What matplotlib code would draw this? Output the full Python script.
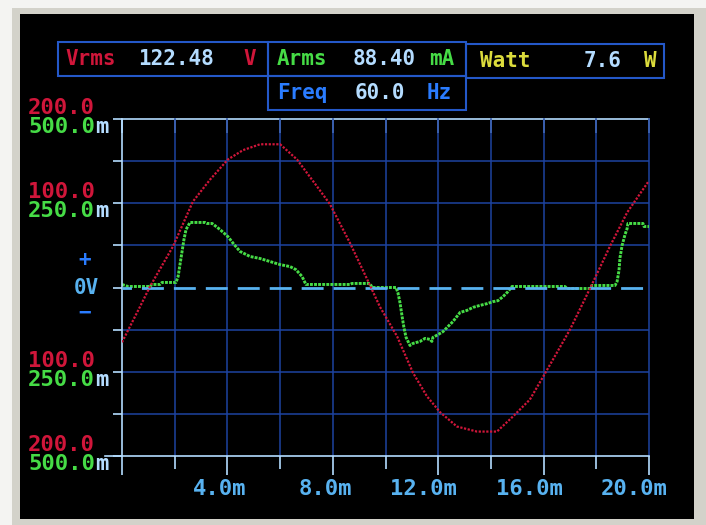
import matplotlib
matplotlib.use('Agg')
import matplotlib.pyplot as plt
import matplotlib.transforms as mtransforms
from matplotlib.patches import Rectangle
import numpy as np

W, H = 706, 525

# voltage trace, time in ms, volts
volt_t = [0.0, 0.68, 1.06, 1.94, 2.69, 3.34, 4.02, 4.59, 5.24, 6.00, 6.64, 7.40, 7.89,
          8.65, 9.30, 9.79, 10.44, 11.04, 11.57, 12.07, 12.71, 13.47, 14.23, 14.84,
          15.48, 15.98, 16.51, 17.00, 17.50, 17.87, 18.52, 19.17, 19.96]
volt_v = [-65, -23, 1, 49, 102, 128, 152, 163, 170, 170, 152, 120, 99,
          53, 10, -23, -58, -101, -129, -148, -165, -171, -171, -153,
          -133, -106, -77, -50, -18, 6, 49, 89, 125]

# current trace, time in ms, mA
amp_t = [0.0, 0.23, 1.06, 1.14, 1.44, 1.52, 2.05, 2.13, 2.20, 2.28, 2.35, 2.43, 2.58,
         3.15, 3.23, 3.42, 3.72, 4.02, 4.25, 4.48, 4.86, 5.24, 5.62, 6.00, 6.38, 6.60,
         6.83, 6.98, 8.65, 8.73, 9.41, 9.49, 10.40, 10.47, 10.55, 10.63, 10.70, 10.78,
         10.93, 11.04, 11.31, 11.50, 11.69, 11.76, 11.80, 11.99, 12.18, 12.37, 12.56,
         12.71, 12.83, 13.09, 13.32, 13.59, 13.85, 14.08, 14.27, 14.46, 14.65, 14.80,
         16.81, 16.89, 17.76, 17.84, 18.71, 18.79, 18.86, 18.90, 18.98, 19.09, 19.17,
         19.20, 19.77, 19.81, 20.0]
amp_ma = [9, 3, 3, 9, 9, 15, 15, 33, 68, 107, 142, 172, 193,
          193, 190, 190, 172, 151, 128, 107, 92, 86, 77, 68, 62, 53,
          33, 9, 9, 12, 12, 0, 0, -15, -45, -86, -119, -148,
          -172, -166, -160, -151, -154, -160, -148, -140, -131, -116, -101,
          -86, -74, -68, -59, -53, -48, -42, -39, -27, -12, 3,
          3, -3, -3, 6, 6, 18, 50, 89, 125, 157, 175,
          190, 190, 181, 181]

# readouts on top
head_names = ['Vrms', 'Arms', 'Freq', 'Watt']
head_values = ['122.48', '88.40', '60.0', '7.6']
head_units = ['V', 'mA', 'Hz', 'W']

# scales
time_major = [0, 4, 8, 12, 16, 20]
time_minor = [2, 6, 10, 14, 18]
time_labels = ['', '4.0m', '8.0m', '12.0m', '16.0m', '20.0m']
volt_marks = [200, 100, -100, -200]
volt_labels = ['200.0', '100.0', '100.0', '200.0']
amp_marks = [500, 250, -250, -500]
amp_labels = ['500.0', '250.0', '250.0', '500.0']

# colours
RED = '#d0163a'
GREEN = '#46dc46'
LIGHT = '#b4dcff'
SKY = '#58b2f0'
BLUE = '#2a7cff'
YELLOW = '#dcdc3c'
GRID = '#1d43a0'
BOX = '#2458c8'
FONT = dict(family='DejaVu Sans Mono', weight='bold', size=15)
FONT_S = dict(family='DejaVu Sans Mono', weight='bold', size=16)

fig = plt.figure(figsize=(W / 100, H / 100), dpi=100)
fig.patch.set_facecolor('#f4f4f2')
# pixel coords, origin top-left
px = mtransforms.Affine2D().scale(1 / W, -1 / H).translate(0, 1) + fig.transFigure

fig.add_artist(Rectangle((12, 8), W - 12, H - 8, transform=px, facecolor='#d3d2ca',
                         edgecolor='none', zorder=-3))
fig.add_artist(Rectangle((20, 14), 674, 505, transform=px, facecolor='black',
                         edgecolor='none', zorder=-2))

# header boxes
boxes = [(58, 42, 210, 34), (268, 42, 198, 34), (268, 76, 198, 34), (466, 44, 198, 34)]
for bx, by, bw, bh in boxes:
    fig.add_artist(Rectangle((bx, by), bw, bh, transform=px, facecolor='none',
                             edgecolor=BOX, lw=1.5, zorder=1))

name_cols = [RED, GREEN, BLUE, YELLOW]
name_x = [65, 277, 277, 480]
value_x = [138, 353, 355, 584]
unit_x = [243, 429, 427, 644]
row_y = [59, 59, 93, 61]
for i in range(4):
    fig.text(name_x[i], row_y[i], head_names[i], color=name_cols[i], transform=px,
             va='center', ha='left', **FONT)
    fig.text(value_x[i], row_y[i], head_values[i], color=LIGHT, transform=px,
             va='center', ha='left', **FONT)
    fig.text(unit_x[i], row_y[i], head_units[i], color=name_cols[i], transform=px,
             va='center', ha='left', **FONT)

# scope area: current axes at the back, voltage axes on top
ax = fig.add_axes([122 / W, 1 - 456 / H, 527 / W, 337 / H])
ax.set_facecolor('none')
ax.set_xlim(0, 20)
ax.set_ylim(-500, 500)
axv = ax.twinx()
axv.set_ylim(-200, 200)
axv.axis('off')

for t in time_minor + time_major[1:]:
    ax.axvline(t, color=GRID, lw=1.1, zorder=0.5, clip_on=False)
for a in [-375, -250, -125, 125, 250, 375]:
    ax.axhline(a, color=GRID, lw=1.1, zorder=0.5)

ax.plot(amp_t, amp_ma, color=GREEN, lw=2.1, linestyle=(0, (1, 0.4)), zorder=2)

axv.axhline(0, color=SKY, lw=2.0, linestyle=(4.5, (7.9, 3.6)), zorder=1)
axv.plot(volt_t, volt_v, color=RED, lw=1.6, linestyle=(0, (1, 0.7)), zorder=3)

for s in ['top', 'right']:
    ax.spines[s].set_visible(False)
for s in ['left', 'bottom']:
    ax.spines[s].set_color(LIGHT)
    ax.spines[s].set_linewidth(1.2)

ax.set_xticks(time_major)
ax.set_xticks(time_minor, minor=True)
ax.set_xticklabels(time_labels, color=SKY, ha='right', **FONT_S)
ax.tick_params(axis='x', which='major', direction='out', length=13.7, width=1.2,
               color=LIGHT, pad=3)
ax.tick_params(axis='x', which='minor', direction='out', length=9.4, width=1.2,
               color=LIGHT)
shift = mtransforms.ScaledTranslation(19 / 100, 0, fig.dpi_scale_trans)
for lab in ax.get_xticklabels():
    lab.set_transform(lab.get_transform() + shift)

ax.set_yticks(np.arange(-500, 501, 125))
ax.set_yticklabels([])
ax.tick_params(axis='y', direction='out', length=6.5, width=1.2, color=LIGHT)
# bottom line reaches further left
ax.plot([-17 / 527, 0], [0, 0], transform=ax.transAxes, color=LIGHT, lw=1.2,
        clip_on=False)

top = ax.secondary_xaxis('top')
top.set_xticks(time_minor + time_major)
top.set_xticklabels([])
top.tick_params(direction='in', length=10, width=1.2, color=LIGHT)
top.spines['top'].set_color(LIGHT)
top.spines['top'].set_linewidth(1.2)

# scale texts on the left
lx = 28 / W
mx = 95 / W
red_tr = mtransforms.offset_copy(
    mtransforms.blended_transform_factory(fig.transFigure, axv.transData),
    fig=fig, y=11, units='dots')
green_tr = mtransforms.offset_copy(
    mtransforms.blended_transform_factory(fig.transFigure, ax.transData),
    fig=fig, y=-8, units='dots')
for v, s in zip(volt_marks, volt_labels):
    fig.text(lx, v, s, color=RED, transform=red_tr, va='center', ha='left', **FONT_S)
for a, s in zip(amp_marks, amp_labels):
    fig.text(lx, a, s, color=GREEN, transform=green_tr, va='center', ha='left', **FONT_S)
    fig.text(mx, a, 'm', color=LIGHT, transform=green_tr, va='center', ha='left', **FONT_S)

fig.text(85, 260, '+', color=BLUE, transform=px, va='center', ha='center', **FONT)
fig.text(86, 288, '0V', color=SKY, transform=px, va='center', ha='center', **FONT)
fig.text(85, 313, '\u2212', color=BLUE, transform=px, va='center', ha='center', **FONT)

fig.savefig('out.png', dpi=100, facecolor=fig.get_facecolor())
